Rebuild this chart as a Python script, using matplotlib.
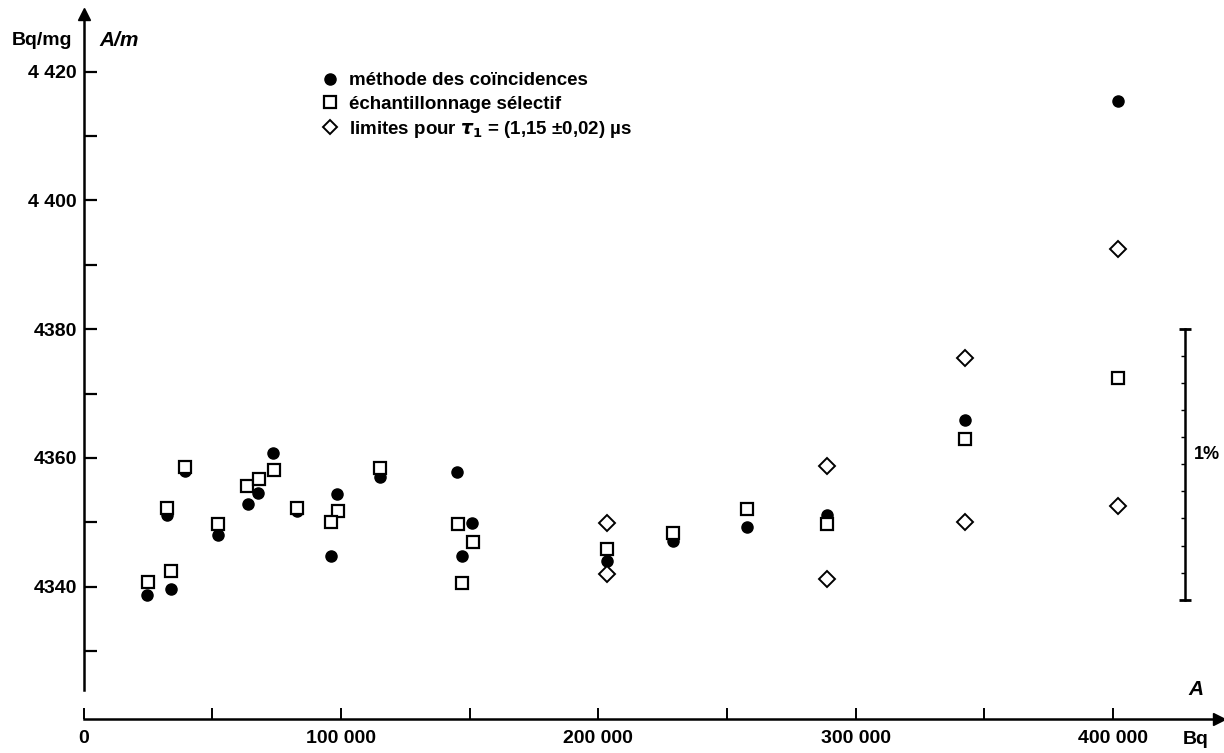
import matplotlib
matplotlib.use("Agg")
import matplotlib.pyplot as plt
from matplotlib.lines import Line2D

plt.rcParams['font.family'] = ['Liberation Sans', 'DejaVu Sans']
plt.rcParams['font.weight'] = 'bold'

# activity A (Bq) and specific activity A/m (Bq/mg)
coinc_x = [24600, 33900, 32300, 39400, 52300, 63700, 67600, 73500, 82800, 98600,
           96100, 115200, 145000, 151000, 147100, 203200, 229100, 257600, 288700,
           342600, 402000]
coinc_y = [4338.7, 4339.6, 4351.1, 4357.9, 4348.0, 4352.8, 4354.6, 4360.8, 4351.8,
           4354.4, 4344.8, 4357.0, 4357.8, 4349.9, 4344.8, 4344.0, 4347.1, 4349.3,
           4351.1, 4365.9, 4415.4]

selec_x = [24900, 34000, 32300, 39400, 52300, 63400, 68100, 74100, 82800, 98700,
           96100, 115200, 145300, 151400, 147100, 203200, 229100, 257600, 288700,
           342600, 402000]
selec_y = [4340.8, 4342.4, 4352.2, 4358.6, 4349.7, 4355.7, 4356.7, 4358.2, 4352.2,
           4351.8, 4350.0, 4358.5, 4349.7, 4346.9, 4340.5, 4345.9, 4348.3, 4352.1,
           4349.7, 4362.9, 4372.4]

lim_x = [203200, 203200, 288700, 288700, 342600, 342600, 402000, 402000]
lim_y = [4349.9, 4342.0, 4358.8, 4341.2, 4375.6, 4350.0, 4392.4, 4352.6]

labels = ["méthode des coïncidences",
          "échantillonnage sélectif",
          r"limites pour $\tau_1$ = (1,15 ±0,02) µs"]

y_ticks = [4340, 4360, 4380, 4400, 4420]
y_tick_labels = ["4340", "4360", "4380", "4 400", "4 420"]
y_minor = [4330, 4350, 4370, 4390, 4410]
x_ticks = [0, 100000, 200000, 300000, 400000]
x_tick_labels = ["0", "100 000", "200 000", "300 000", "400 000"]
x_minor = [50000, 150000, 250000, 350000]

# 1 % bar, split in tenths
bar_x = 428000
bar_lo, bar_hi = 4338.0, 4380.0

fig = plt.figure(figsize=(12.24, 7.53), dpi=100)
ax = fig.add_axes([0, 0, 1, 1])
ax.set_xlim(-32480, 443050)
ax.set_ylim(4314.17, 4431.14)

ax.plot(coinc_x, coinc_y, 'o', color='black', ms=8, ls='none', zorder=3)
ax.plot(selec_x, selec_y, 's', mfc='white', mec='black', mew=1.6, ms=8.5,
        ls='none', zorder=4)
ax.plot(lim_x, lim_y, 'D', mfc='white', mec='black', mew=1.4, ms=8.5,
        ls='none', zorder=4)

# axes drawn as arrows
for side in ['top', 'right']:
    ax.spines[side].set_visible(False)
ax.spines['left'].set_position(('data', 0))
ax.spines['left'].set_bounds(4323.9, 4428)
ax.spines['bottom'].set_position(('data', 4319.4))
ax.spines['bottom'].set_bounds(0, 440000)
for side in ['left', 'bottom']:
    ax.spines[side].set_linewidth(1.8)
ax.plot(441000, 4319.4, '>', color='black', ms=9, clip_on=False)
ax.plot(0, 4429.0, '^', color='black', ms=9, clip_on=False)

ax.set_yticks(y_ticks, y_tick_labels)
ax.set_yticks(y_minor, minor=True)
ax.set_xticks(x_ticks, x_tick_labels)
ax.set_xticks(x_minor, minor=True)
ax.tick_params(axis='y', which='both', direction='in', length=9, width=1.6,
               pad=5, labelsize=14)
ax.tick_params(axis='x', which='both', direction='in', length=8, width=1.4,
               pad=8, labelsize=14)

ax.text(-4500, 4424.9, "Bq/mg", ha='right', va='center', fontsize=14)
ax.text(6300, 4424.9, "A/m", ha='left', va='center', fontsize=15,
        style='italic')
ax.text(432000, 4322.5, "A", ha='center', va='bottom', fontsize=15,
        style='italic')
ax.text(432000, 4317.6, "Bq", ha='center', va='top', fontsize=14)

# 1 % scale bar
ax.plot([bar_x, bar_x], [bar_lo, bar_hi], color='black', lw=1.8)
ax.plot([bar_x, bar_x], [bar_lo, bar_hi], ls='none', marker='_', ms=9, mew=2,
        color='black')
tenths = [bar_lo + i * (bar_hi - bar_lo) / 10 for i in range(1, 10)]
ax.plot([bar_x] * len(tenths), tenths, ls='none', marker=0, ms=3, mew=1,
        color='black')
ax.text(431500, 4360.5, "1%", ha='left', va='center', fontsize=13)

handles = [
    Line2D([], [], marker='o', color='black', ls='none', ms=8),
    Line2D([], [], marker='s', mfc='white', mec='black', mew=1.6, ls='none', ms=8),
    Line2D([], [], marker='D', mfc='white', mec='black', mew=1.4, ls='none', ms=7.5),
]
ax.legend(handles, labels, loc='upper left', bbox_to_anchor=(0.254, 0.914),
          frameon=False, fontsize=13.5, handletextpad=0.45, labelspacing=0.32,
          borderaxespad=0, handlelength=1.2)

fig.savefig("out.png", dpi=100)
